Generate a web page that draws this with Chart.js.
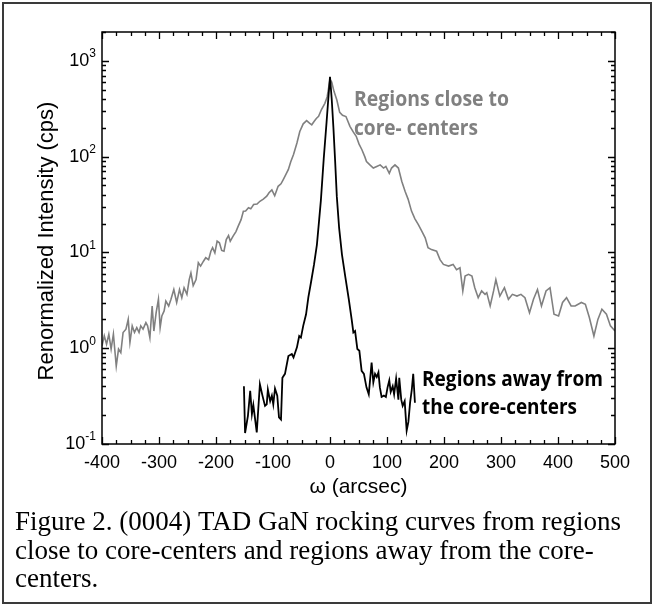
<!DOCTYPE html>
<html>
<head>
<meta charset="utf-8">
<script src="https://cdn.jsdelivr.net/npm/chart.js@4.4.1/dist/chart.umd.min.js"></script>
<style>
  body { margin: 0; background: #fff; }
  #wrap { width: 654px; height: 606px; }
</style>
</head>
<body>
<div id="wrap"><canvas id="rc" width="654" height="606"></canvas></div>
<script>
// regions close to core-centers (gray)
const closeX = [-400, -396, -392, -388, -384, -380, -375, -371, -367, -363, -358, -354, -351, -347, -343, -339, -335, -332, -328, -323,
  -320, -316, -312, -309, -305, -301, -298, -295, -291, -288, -283, -279, -274, -269, -264, -260, -256, -251, -247, -244,
  -240, -235, -231, -227, -222, -218, -213, -209, -206, -202, -198, -194, -190, -186, -182, -178, -175, -170, -165, -161,
  -156, -152, -148, -143, -139, -134, -128, -123, -117, -111, -107, -102, -97, -91, -86, -82, -78, -73, -69, -64,
  -58, -53, -47, -41, -36, -32, -28, -24, -20, -15, -9, -5, 0, 3, 7, 12, 17, 22, 28, 35,
  41, 46, 51, 56, 61, 64, 70, 76, 82, 88, 94, 98, 104, 108, 114, 120, 126, 132, 137, 143,
  149, 155, 161, 167, 172, 178, 187, 193, 199, 208, 216, 222, 228, 233, 237, 243, 249, 254, 260, 266,
  272, 275, 281, 287, 291, 298, 306, 313, 320, 328, 335, 342, 350, 357, 364, 371, 379, 386, 393, 401,
  408, 415, 423, 430, 441, 448, 455, 463, 470, 477, 485, 492, 500];
const closeY = [1.06, 1.35, 1.10, 1.40, 0.98, 1.40, 0.65, 0.98, 0.90, 1.46, 1.58, 2.0, 1.15, 1.71, 1.46, 1.64, 1.46, 1.71, 1.58, 1.85,
  1.71, 1.29, 2.76, 1.51, 2.35, 3.24, 1.64, 2.17, 2.45, 3.1, 2.76, 3.24, 4.1, 3.0, 4.1, 3.37, 4.28, 3.65, 5.2, 6.1,
  4.5, 5.2, 7.8, 7.2, 8.1, 8.8, 8.4, 10.3, 11.2, 9.9, 13.1, 12.6, 10.5, 10.3, 13.6, 15.0, 13.1, 14.8, 16.5, 18.8,
  22, 26.9, 27, 29.2, 28.5, 31.6, 32, 34.2, 36, 38.6, 42, 45, 39, 49, 52, 57.6, 64, 73.5, 88, 105,
  139, 183, 220, 238, 224, 215, 233, 250, 263, 310, 360, 420, 640, 600, 480, 390, 290, 270, 262, 207,
  180, 163, 135, 118, 100, 89, 82, 76, 79, 82, 76, 79, 67, 76, 82, 76, 55, 43, 36, 27,
  22.4, 19.5, 16.7, 14.2, 11.2, 10.7, 10.3, 8.4, 7.5, 7.2, 7.5, 6.6, 6.9, 3.96, 5.67, 5.9, 5.67, 4.28, 3.37, 3.96,
  3.65, 3.8, 2.76, 3.96, 5.2, 3.5, 4.28, 3.24, 3.65, 3.5, 3.65, 3.37, 2.35, 3.24, 4.1, 2.76, 3.96, 4.28, 2.26, 2.17,
  3.0, 3.37, 2.76, 2.76, 3.0, 2.87, 2.09, 1.34, 2.0, 2.55, 2.26, 1.71, 1.51];

// regions away from the core-centers (black)
const awayX = [-151, -149, -144, -140, -137, -134.5, -128.5, -123, -118.5, -114, -111, -109, -105, -102, -99.5, -96.5, -92.5, -89.5, -86, -83.5,
  -79, -73, -67, -64, -58, -54, -51, -47, -42, -38, -33, -28, -23, -19, -16, -11, -6, -3, 0, 3,
  6, 9, 12, 16, 21, 27, 33, 38, 41, 44, 48, 51.5, 55.5, 59.5, 64, 68, 71.5, 73, 76, 79,
  82, 85, 87.5, 90.5, 94.5, 98, 101, 104, 106.5, 110, 112.5, 116, 120, 121.5, 125, 127.5, 131, 134.5, 137.5, 140.5,
  143.5, 146, 149];
const awayY = [0.40, 0.13, 0.197, 0.36, 0.205, 0.255, 0.132, 0.42, 0.32, 0.25, 0.26, 0.37, 0.28, 0.32, 0.26, 0.38, 0.32, 0.19, 0.18, 0.49,
  0.54, 0.83, 0.87, 0.80, 1.02, 1.34, 1.29, 1.71, 2.26, 3.4, 5, 7.5, 12, 22, 35, 95, 230, 400, 680, 400,
  200, 90, 38, 18, 9.5, 5.5, 3.24, 2.0, 1.46, 1.51, 0.98, 0.94, 0.58, 0.54, 0.39, 0.33, 0.56, 0.71, 0.44, 0.54,
  0.50, 0.56, 0.39, 0.31, 0.32, 0.31, 0.39, 0.46, 0.35, 0.40, 0.33, 0.48, 0.29, 0.49, 0.29, 0.25, 0.28, 0.138, 0.17, 0.27,
  0.37, 0.54, 0.27];

const xTicks = [-400, -300, -200, -100, 0, 100, 200, 300, 400, 500];
const yExps = [-1, 0, 1, 2, 3];
const captionLines = [
  'Figure 2. (0004) TAD GaN rocking curves from regions',
  'close to core-centers and regions away from the core-',
  'centers.'
];

const SANS = '"Liberation Sans", Arial, sans-serif';

function pairs(xs, ys) { return xs.map((v, i) => ({ x: v, y: ys[i] })); }

const decor = {
  id: 'decor',
  beforeDraw(chart) {
    const c = chart.ctx;
    c.save();
    c.fillStyle = '#fff';
    c.fillRect(0, 0, chart.width, chart.height);
    c.restore();
  },
  afterDraw(chart) {
    const c = chart.ctx, a = chart.chartArea, x = chart.scales.x, y = chart.scales.y;
    c.save();
    c.strokeStyle = '#000';
    c.lineWidth = 1.5;
    c.strokeRect(a.left, a.top, a.right - a.left, a.bottom - a.top);

    // inward ticks, x
    c.lineWidth = 1.3;
    c.beginPath();
    for (let v = x.min; v <= x.max; v += 25) {
      const p = Math.round(x.getPixelForValue(v)) + 0.5;
      const len = v % 100 === 0 ? 7 : 4;
      c.moveTo(p, a.bottom); c.lineTo(p, a.bottom - len);
      c.moveTo(p, a.top); c.lineTo(p, a.top + len);
    }
    // inward ticks, y
    for (let e = -1; e <= 3; e++) {
      for (let m = 1; m <= 9; m++) {
        const v = m * Math.pow(10, e);
        if (v > y.max) break;
        const p = Math.round(y.getPixelForValue(v)) + 0.5;
        const len = m === 1 ? 7 : 4;
        c.moveTo(a.left, p); c.lineTo(a.left + len, p);
        c.moveTo(a.right, p); c.lineTo(a.right - len, p);
      }
    }
    c.stroke();

    // tick labels
    c.fillStyle = '#000';
    c.font = '18px ' + SANS;
    c.textAlign = 'center';
    c.textBaseline = 'middle';
    xTicks.forEach(v => c.fillText(String(v), x.getPixelForValue(v), a.bottom + 19));

    yExps.forEach(e => {
      const p = y.getPixelForValue(Math.pow(10, e));
      c.font = '12px ' + SANS;
      const sup = String(e);
      const sw = c.measureText(sup).width;
      const right = a.left - 6;
      c.textAlign = 'left';
      c.fillText(sup, right - sw, p - 7);
      c.font = '18px ' + SANS;
      c.textAlign = 'right';
      c.fillText('10', right - sw, p);
    });

    // axis titles
    c.font = '21px ' + SANS;
    c.textAlign = 'center';
    c.fillText('\u03c9 (arcsec)', (a.left + a.right) / 2, a.bottom + 43);
    c.save();
    c.font = '22px ' + SANS;
    c.translate(47, 241);
    c.rotate(-Math.PI / 2);
    c.fillText('Renormalized Intensity (cps)', 0, 0);
    c.restore();

    // series annotations
    c.textAlign = 'left';
    c.font = 'bold 21px "Open Sans", sans-serif';
    c.fillStyle = '#808080';
    c.fillText('Regions close to', 354, 100, 155);
    c.fillText('core- centers', 354, 129, 124);
    c.fillStyle = '#000';
    c.fillText('Regions away from', 422, 380, 181);
    c.fillText('the core-centers', 422, 408, 155);

    // caption
    c.font = '27px "Liberation Serif", "Times New Roman", serif';
    captionLines.forEach((t, i) => c.fillText(t, 15, 523 + i * 28.5));

    // outer border
    c.strokeStyle = '#3a3a3a';
    c.lineWidth = 2;
    c.strokeRect(3, 3, 648, 600);
    c.restore();
  }
};

new Chart(document.getElementById('rc'), {
  type: 'line',
  data: {
    datasets: [
      {
        label: 'Regions away from the core-centers',
        data: pairs(awayX, awayY),
        borderColor: '#000',
        borderWidth: 1.8,
        pointRadius: 0,
        tension: 0,
        order: 0
      },
      {
        label: 'Regions close to core-centers',
        data: pairs(closeX, closeY),
        borderColor: '#808080',
        borderWidth: 1.6,
        pointRadius: 0,
        tension: 0,
        order: 1
      }
    ]
  },
  options: {
    responsive: false,
    animation: false,
    devicePixelRatio: 1,
    layout: { padding: { left: 102, right: 39, top: 32, bottom: 162 } },
    plugins: { legend: { display: false }, tooltip: { enabled: false } },
    scales: {
      x: { type: 'linear', min: -400, max: 500, display: false },
      y: { type: 'logarithmic', min: 0.1, max: 2000, display: false }
    }
  },
  plugins: [decor]
});
</script>
</body>
</html>
